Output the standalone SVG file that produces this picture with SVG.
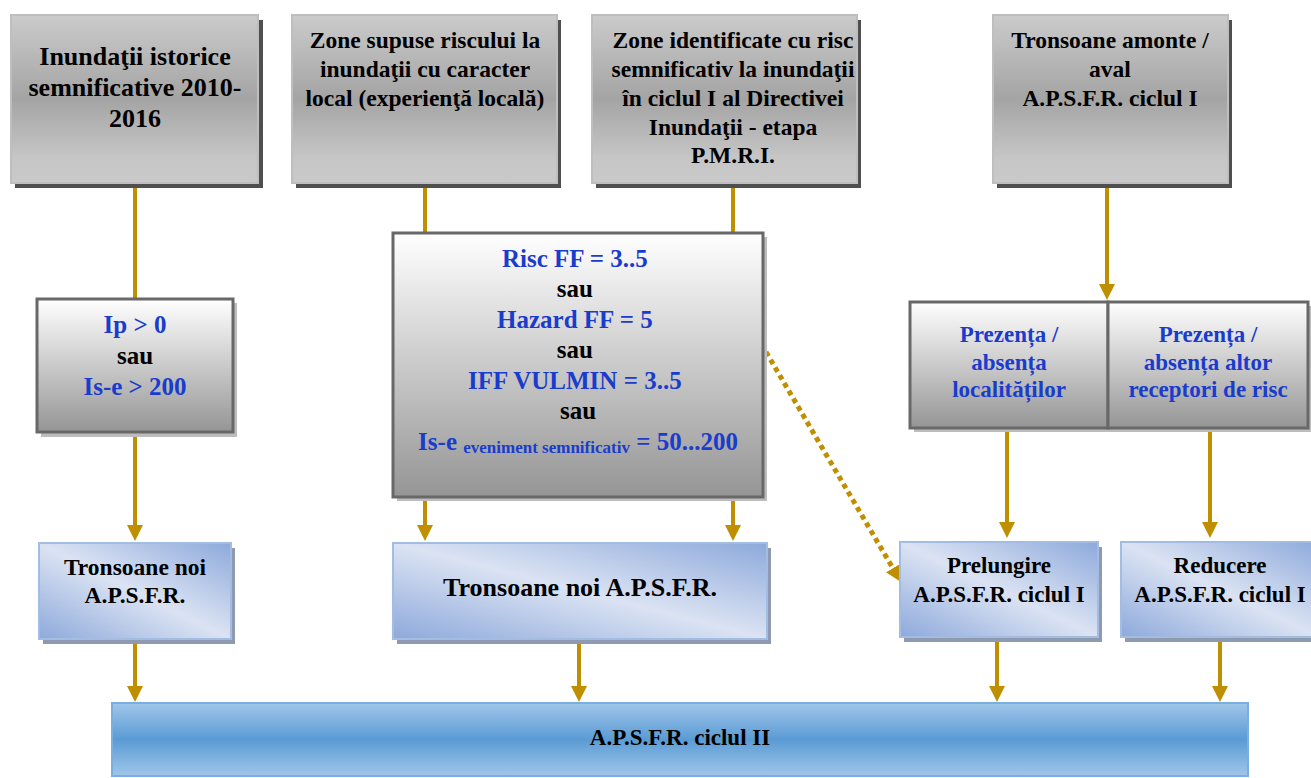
<svg xmlns="http://www.w3.org/2000/svg" width="1311" height="778" viewBox="0 0 1311 778">
<style>
text{font-family:"Liberation Serif","Times New Roman",serif;font-weight:bold;text-anchor:middle;fill:#000}
.t1{font-size:26px}
.t2{font-size:23.5px}
.t3{font-size:25px}
.t4{font-size:23px}
.blue{fill:#1A3CCC}
.sub{font-size:17px}
.gray{fill:url(#gGray);stroke:#BEBEBE;stroke-width:2}
.gshadow{fill:#4F4F4F}
.mid{fill:url(#gMid);stroke:#686868;stroke-width:3}
.mshadow{fill:#BDBDBD}
.lb{fill:url(#gBlue);stroke:#A3BCE2;stroke-width:2}
.lbshadow{fill:#8E9AB0}
.bar{fill:url(#gBar);stroke:#7AADE0;stroke-width:2}
.con{stroke:#BF8F00;stroke-width:4;fill:none}
.dot{stroke:#BF8F00;stroke-width:5;fill:none;stroke-dasharray:5 4}
</style>
<defs>
<linearGradient id="gGray" x1="0" y1="0" x2="0" y2="1">
<stop offset="0" stop-color="#CBCBCB"/>
<stop offset="0.5" stop-color="#A4A4A4"/>
<stop offset="0.85" stop-color="#C6C6C6"/>
<stop offset="1" stop-color="#C9C9C9"/>
</linearGradient>
<linearGradient id="gMid" x1="0" y1="0" x2="0" y2="1">
<stop offset="0" stop-color="#FFFFFF"/>
<stop offset="1" stop-color="#959595"/>
</linearGradient>
<linearGradient id="gBlue" x1="1" y1="0" x2="0" y2="1">
<stop offset="0" stop-color="#8DA9DB"/>
<stop offset="0.5" stop-color="#DBE3F3"/>
<stop offset="1" stop-color="#8DA9DB"/>
</linearGradient>
<linearGradient id="gBar" x1="0" y1="0" x2="0" y2="1">
<stop offset="0" stop-color="#A0C6E9"/>
<stop offset="0.5" stop-color="#5B9BD5"/>
<stop offset="1" stop-color="#A0C6E9"/>
</linearGradient>
<marker id="arr" viewBox="0 0 16 16" refX="8" refY="8" markerWidth="16" markerHeight="16" markerUnits="userSpaceOnUse" orient="auto">
<path d="M0,0 L16,8 L0,16 Z" fill="#BF8F00"/>
</marker>
</defs>

<g id="connectors">
<line class="con" x1="135" y1="188" x2="135" y2="299"/>
<line class="con" x1="135" y1="436" x2="135" y2="533" marker-end="url(#arr)"/>
<line class="con" x1="425" y1="188" x2="425" y2="234"/>
<line class="con" x1="733" y1="188" x2="733" y2="234"/>
<line class="con" x1="1107" y1="188" x2="1107" y2="292" marker-end="url(#arr)"/>
<line class="con" x1="425" y1="501" x2="425" y2="533" marker-end="url(#arr)"/>
<line class="con" x1="733" y1="501" x2="733" y2="533" marker-end="url(#arr)"/>
<line class="con" x1="1007" y1="431" x2="1007" y2="530" marker-end="url(#arr)"/>
<line class="con" x1="1210" y1="431" x2="1210" y2="530" marker-end="url(#arr)"/>
<line class="con" x1="135" y1="644" x2="135" y2="694" marker-end="url(#arr)"/>
<line class="con" x1="579" y1="644" x2="579" y2="694" marker-end="url(#arr)"/>
<line class="con" x1="997" y1="642" x2="997" y2="694" marker-end="url(#arr)"/>
<line class="con" x1="1220" y1="642" x2="1220" y2="694" marker-end="url(#arr)"/>
<line class="dot" x1="766" y1="352" x2="896.9" y2="575.1" marker-end="url(#arr)"/>
</g>

<g id="n1">
<rect class="gshadow" x="15" y="20" width="248" height="168"/>
<rect class="gray" x="11" y="15" width="247" height="168"/>
<text class="t1" x="135"><tspan x="135" y="65">Inundaţii istorice</tspan><tspan x="135" y="96">semnificative 2010-</tspan><tspan x="135" y="127">2016</tspan></text>
</g>
<g id="n2">
<rect class="gshadow" x="296" y="20" width="265" height="168"/>
<rect class="gray" x="292" y="15" width="265" height="168"/>
<text class="t2"><tspan x="425" y="48">Zone supuse riscului la</tspan><tspan x="425" y="77">inundaţii cu caracter</tspan><tspan x="425" y="106">local (experienţă locală)</tspan></text>
</g>
<g id="n3">
<rect class="gshadow" x="596" y="20" width="265" height="168"/>
<rect class="gray" x="592" y="15" width="265" height="168"/>
<text class="t2"><tspan x="733" y="48">Zone identificate cu risc</tspan><tspan x="733" y="77">semnificativ la inundaţii</tspan><tspan x="733" y="106">în ciclul I al Directivei</tspan><tspan x="733" y="135">Inundaţii - etapa</tspan><tspan x="733" y="163">P.M.R.I.</tspan></text>
</g>
<g id="n4">
<rect class="gshadow" x="997" y="20" width="235" height="168"/>
<rect class="gray" x="993" y="15" width="235" height="168"/>
<text class="t2"><tspan x="1110" y="48">Tronsoane amonte /</tspan><tspan x="1110" y="77">aval</tspan><tspan x="1110" y="106">A.P.S.F.R. ciclul I</tspan></text>
</g>

<g id="n5">
<rect class="mshadow" x="41" y="303" width="196" height="134"/>
<rect class="mid" x="37" y="299" width="196" height="133"/>
<text class="t3"><tspan class="blue" x="135" y="333">Ip &gt; 0</tspan><tspan x="135" y="364">sau</tspan><tspan class="blue" x="135" y="395">Is-e &gt; 200</tspan></text>
</g>

<g id="n6">
<rect class="mshadow" x="397" y="237" width="370" height="264"/>
<rect class="mid" x="393" y="233" width="370" height="264"/>
<text class="t3">
<tspan class="blue" x="578" y="267">Risc FF = 3..5</tspan>
<tspan x="578" y="297">sau</tspan>
<tspan class="blue" x="578" y="328">Hazard FF = 5</tspan>
<tspan x="578" y="358">sau</tspan>
<tspan class="blue" x="578" y="389">IFF VULMIN = 3..5</tspan>
<tspan x="578" y="419">sau</tspan>
</text>
<text class="t3 blue" x="578" y="450">Is-e <tspan class="sub" dy="3">eveniment semnificativ</tspan><tspan dy="-3"> = 50...200</tspan></text>
</g>

<g id="n7">
<rect class="mshadow" x="914" y="306" width="398" height="126"/>
<rect class="mid" x="910" y="302" width="198" height="126"/>
<text class="t4 blue"><tspan x="1009" y="342">Prezența /</tspan><tspan x="1009" y="370">absența</tspan><tspan x="1009" y="397">localităților</tspan></text>
</g>
<g id="n8">
<rect class="mid" x="1108" y="302" width="200" height="126"/>
<text class="t4 blue"><tspan x="1208" y="342">Prezența /</tspan><tspan x="1208" y="370">absența altor</tspan><tspan x="1208" y="397">receptori de risc</tspan></text>
</g>

<g id="n9">
<rect class="lbshadow" x="43" y="548" width="192" height="96"/>
<rect class="lb" x="39" y="543" width="192" height="96"/>
<text class="t2"><tspan x="135" y="575">Tronsoane noi</tspan><tspan x="135" y="603">A.P.S.F.R.</tspan></text>
</g>
<g id="n10">
<rect class="lbshadow" x="397" y="548" width="374" height="96"/>
<rect class="lb" x="393" y="543" width="374" height="96"/>
<text style="font-size:26px" x="580" y="596">Tronsoane noi A.P.S.F.R.</text>
</g>
<g id="n11">
<rect class="lbshadow" x="904" y="547" width="198" height="95"/>
<rect class="lb" x="900" y="542" width="198" height="95"/>
<text class="t4"><tspan x="999" y="573">Prelungire</tspan><tspan x="999" y="602">A.P.S.F.R. ciclul I</tspan></text>
</g>
<g id="n12">
<rect class="lbshadow" x="1125" y="547" width="198" height="95"/>
<rect class="lb" x="1121" y="542" width="198" height="95"/>
<text class="t4"><tspan x="1220" y="573">Reducere</tspan><tspan x="1220" y="602">A.P.S.F.R. ciclul I</tspan></text>
</g>

<g id="n13">
<rect class="bar" x="112" y="703" width="1136" height="73"/>
<text class="t4" x="680" y="745">A.P.S.F.R. ciclul II</text>
</g>
</svg>
